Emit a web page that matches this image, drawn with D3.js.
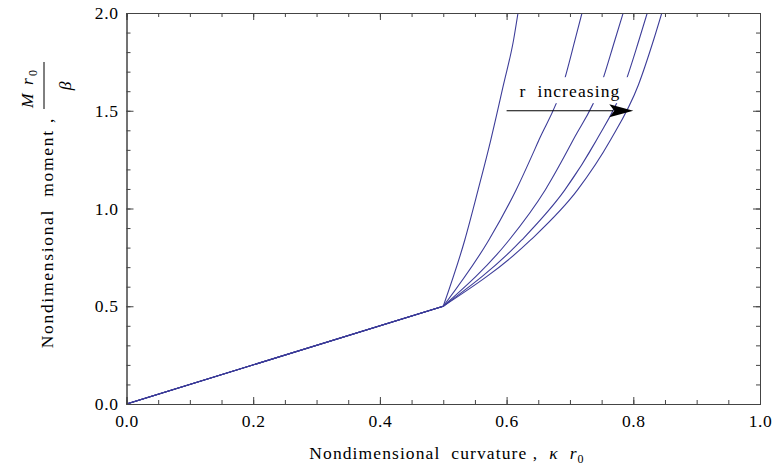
<!DOCTYPE html>
<html>
<head>
<meta charset="utf-8">
<script src="https://cdn.jsdelivr.net/npm/d3@7"></script>
<style>
  html, body { margin: 0; padding: 0; background: #fff; }
  svg text { font-family: "Liberation Serif", "Times New Roman", serif; white-space: pre; fill: #000; }
</style>
</head>
<body>
<svg id="chart" width="774" height="468"></svg>
<script>
// Elastic segment shared by every curve: (κ r0, M r0/β)
const elasticPart = [[0, 0], [0.5, 0.5]];

// Post-yield branches, one per r value (steepest first)
const branch1 = [[0.5, 0.5], [0.534, 0.839], [0.555, 1.095], [0.575, 1.35], [0.595, 1.632], [0.611, 1.862], [0.618, 2.0]];
const branch2 = [[0.5, 0.5], [0.572, 0.839], [0.615, 1.095], [0.651, 1.35], [0.689, 1.632], [0.708, 1.862], [0.719, 2.0]];
const branch3 = [[0.5, 0.5], [0.604, 0.839], [0.661, 1.095], [0.705, 1.35], [0.749, 1.632], [0.771, 1.862], [0.784, 2.0]];
const branch4 = [[0.5, 0.5], [0.624, 0.839], [0.692, 1.095], [0.742, 1.35], [0.786, 1.632], [0.809, 1.862], [0.822, 2.0]];
const branch5 = [[0.5, 0.5], [0.638, 0.839], [0.712, 1.095], [0.764, 1.35], [0.808, 1.632], [0.832, 1.862], [0.845, 2.0]];
const branches = [branch1, branch2, branch3, branch4, branch5];

// Axis ticks
const xMajor = [0, 0.2, 0.4, 0.6, 0.8, 1.0];
const xMinor = d3.range(0, 1.0001, 0.05);
const yMajor = [0, 0.5, 1.0, 1.5, 2.0];
const yMinor = d3.range(0, 2.0001, 0.1);

// Annotation
const arrowFrom = [0.6, 1.5];
const arrowTo = [0.8, 1.5];
const noteText = "r  increasing";
const notePos = [0.7, 1.6];

const svg = d3.select("#chart");
const x = d3.scaleLinear().domain([0, 1]).range([126.5, 760]);
const y = d3.scaleLinear().domain([0, 2]).range([404, 13]);

const lineColor = "#3d3d99";
const frameColor = "#444";
const fontSize = 17.5;
const spacing = 1.1;

svg.append("defs").append("clipPath").attr("id", "plotclip")
  .append("rect").attr("x", x(0)).attr("y", y(2)).attr("width", x(1) - x(0)).attr("height", y(0) - y(2));

const plot = svg.append("g").attr("clip-path", "url(#plotclip)");

const straight = d3.line().x(d => x(d[0])).y(d => y(d[1]));
const smooth = d3.line().x(d => x(d[0])).y(d => y(d[1])).curve(d3.curveMonotoneX);

branches.forEach(b => {
  plot.append("path").attr("d", straight(elasticPart))
    .attr("fill", "none").attr("stroke", lineColor).attr("stroke-width", 1.1);
  plot.append("path").attr("d", smooth(b))
    .attr("fill", "none").attr("stroke", lineColor).attr("stroke-width", 1.1);
});

// Label with white backing, then the arrow
const note = svg.append("g");
const noteLabel = note.append("text")
  .attr("x", x(notePos[0])).attr("y", y(notePos[1]))
  .attr("text-anchor", "middle").attr("dominant-baseline", "central")
  .attr("font-size", fontSize).attr("letter-spacing", spacing).text(noteText);
const bb = noteLabel.node().getBBox();
note.insert("rect", "text")
  .attr("x", bb.x - 10).attr("y", bb.y - 4)
  .attr("width", bb.width + 18).attr("height", bb.height + 6)
  .attr("fill", "#fff");

const ax0 = x(arrowFrom[0]), ay = y(arrowFrom[1]), ax1 = x(arrowTo[0]);
const headLen = 24, headHalf = 6.5;
svg.append("line")
  .attr("x1", ax0).attr("y1", ay).attr("x2", ax1 - headLen + 4).attr("y2", ay)
  .attr("stroke", "#000").attr("stroke-width", 1.2);
svg.append("path")
  .attr("d", `M${ax1},${ay} L${ax1 - headLen},${ay - headHalf} L${ax1 - headLen + 5},${ay} L${ax1 - headLen},${ay + headHalf} Z`)
  .attr("fill", "#000");

// Frame: ticks point inward on all four sides
const axes = [
  [d3.axisBottom(x).tickValues(xMinor).tickSize(-4).tickFormat(""), `translate(0,${y(0)})`],
  [d3.axisBottom(x).tickValues(xMajor).tickSize(-7).tickPadding(11).tickFormat(d3.format(".1f")), `translate(0,${y(0)})`],
  [d3.axisTop(x).tickValues(xMinor).tickSize(-4).tickFormat(""), `translate(0,${y(2)})`],
  [d3.axisTop(x).tickValues(xMajor).tickSize(-7).tickFormat(""), `translate(0,${y(2)})`],
  [d3.axisLeft(y).tickValues(yMinor).tickSize(-4).tickFormat(""), `translate(${x(0)},0)`],
  [d3.axisLeft(y).tickValues(yMajor).tickSize(-7).tickPadding(8).tickFormat(d3.format(".1f")), `translate(${x(0)},0)`],
  [d3.axisRight(y).tickValues(yMinor).tickSize(-4).tickFormat(""), `translate(${x(1)},0)`],
  [d3.axisRight(y).tickValues(yMajor).tickSize(-7).tickFormat(""), `translate(${x(1)},0)`]
];
axes.forEach(([a, tr]) => {
  const g = svg.append("g").attr("transform", tr).call(a);
  g.select(".domain").attr("stroke", frameColor).attr("stroke-width", 1);
  g.selectAll(".tick line").attr("stroke", frameColor).attr("stroke-width", 1);
  g.selectAll(".tick text").attr("font-size", fontSize).attr("letter-spacing", 0.6);
});

// X axis title
const xt = svg.append("text")
  .attr("x", 447).attr("y", 459).attr("text-anchor", "middle")
  .attr("font-size", fontSize).attr("letter-spacing", spacing);
xt.append("tspan").text("Nondimensional  curvature ,  ");
xt.append("tspan").attr("font-style", "italic").text("κ  r");
xt.append("tspan").attr("font-size", 12).attr("dy", 4).text("0");

// Y axis title (rotated), with the fraction M r0 / β
const yl = svg.append("g").attr("transform", "rotate(-90)");
yl.append("text")
  .attr("x", -117).attr("y", 53).attr("text-anchor", "end")
  .attr("font-size", fontSize).attr("letter-spacing", 1.7)
  .text("Nondimensional  moment ,");
yl.append("text")
  .attr("x", -108).attr("y", 33)
  .attr("font-size", fontSize).attr("font-style", "italic").text("M");
yl.append("text")
  .attr("x", -85).attr("y", 33)
  .attr("font-size", fontSize).attr("font-style", "italic").text("r");
yl.append("text")
  .attr("x", -76).attr("y", 37)
  .attr("font-size", 12).text("0");
yl.append("line")
  .attr("x1", -109).attr("x2", -62).attr("y1", 44).attr("y2", 44)
  .attr("stroke", "#000").attr("stroke-width", 1);
yl.append("text")
  .attr("x", -86).attr("y", 71).attr("text-anchor", "middle")
  .attr("font-size", fontSize).attr("font-style", "italic")
  .text("β");
</script>
</body>
</html>
